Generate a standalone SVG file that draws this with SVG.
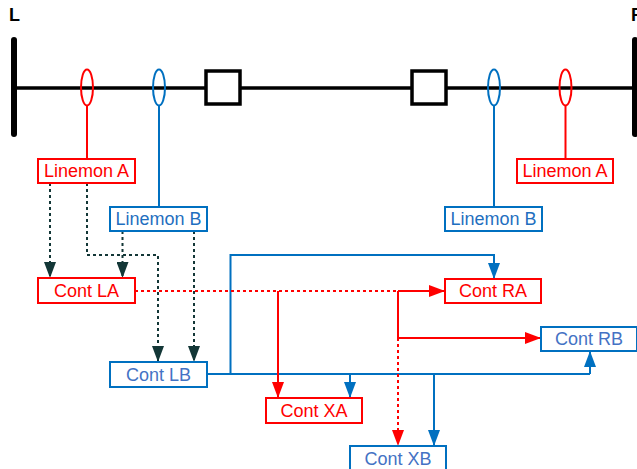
<svg xmlns="http://www.w3.org/2000/svg" width="637" height="469" viewBox="0 0 637 469">
<defs>
<style>
.t{font-family:"Liberation Sans",Arial,sans-serif;font-size:18px;text-anchor:middle;dominant-baseline:central}
.lbl{font-family:"Liberation Sans",Arial,sans-serif;font-size:18px;font-weight:bold;fill:#000}
.rb{fill:#fff;stroke:#ff0000;stroke-width:2}
.bb{fill:#fff;stroke:#0070c0;stroke-width:2}
.rt{fill:#ff0000}
.bt{fill:#1f6fc0}
.ct{fill:#4472c4}
.r{fill:none;stroke:#ff0000;stroke-width:2}
.b{fill:none;stroke:#0070c0;stroke-width:2}
.rd{fill:none;stroke:#ff0000;stroke-width:2;stroke-dasharray:3,3}
.kd{fill:none;stroke:#133737;stroke-width:2;stroke-dasharray:3,3}
</style>
<marker id="ar" viewBox="0 0 16 12" refX="16" refY="6" markerWidth="16" markerHeight="12" markerUnits="userSpaceOnUse" orient="auto"><path d="M0,0L16,6L0,12z" fill="#ff0000"/></marker>
<marker id="ab" viewBox="0 0 16 12" refX="16" refY="6" markerWidth="16" markerHeight="12" markerUnits="userSpaceOnUse" orient="auto"><path d="M0,0L16,6L0,12z" fill="#0070c0"/></marker>
<marker id="ak" viewBox="0 0 16 12" refX="16" refY="6" markerWidth="16" markerHeight="12" markerUnits="userSpaceOnUse" orient="auto"><path d="M0,0L16,6L0,12z" fill="#133737"/></marker>
</defs>
<rect width="637" height="469" fill="#fff"/>

<g id="line">
<text class="lbl" x="9" y="21">L</text>
<text class="lbl" x="631" y="21">R</text>
<line x1="14" y1="88" x2="637" y2="88" stroke="#000" stroke-width="3.5"/>
<line x1="14" y1="40" x2="14" y2="134" stroke="#000" stroke-width="6" stroke-linecap="round"/>
<line x1="635" y1="40" x2="635" y2="134" stroke="#000" stroke-width="6" stroke-linecap="round"/>
<rect x="206" y="71" width="34" height="33" fill="#fff" stroke="#000" stroke-width="3.5"/>
<rect x="412" y="71" width="34" height="33" fill="#fff" stroke="#000" stroke-width="3.5"/>
<ellipse cx="87" cy="87.5" rx="6" ry="18" fill="none" stroke="#ff0000" stroke-width="2"/>
<ellipse cx="159" cy="87.5" rx="6" ry="18" fill="none" stroke="#0070c0" stroke-width="2"/>
<ellipse cx="494" cy="87.5" rx="6" ry="18" fill="none" stroke="#0070c0" stroke-width="2"/>
<ellipse cx="565.5" cy="87.5" rx="6" ry="18" fill="none" stroke="#ff0000" stroke-width="2"/>
</g>

<g id="connectors">
<line class="r" x1="87" y1="105.5" x2="87" y2="159"/>
<line class="b" x1="159" y1="105.5" x2="159" y2="207"/>
<line class="b" x1="494" y1="105.5" x2="494" y2="207"/>
<line class="r" x1="565.5" y1="105.5" x2="565.5" y2="159"/>

<path class="kd" d="M50,183V278" marker-end="url(#ak)"/>
<path class="kd" d="M87,183V255H158V362" marker-end="url(#ak)"/>
<path class="kd" d="M122.5,231V278" marker-end="url(#ak)"/>
<path class="kd" d="M194,231V362" marker-end="url(#ak)"/>

<path class="b" d="M230.5,374V255H494V279" marker-end="url(#ab)"/>
<path class="b" d="M207,374H590"/>
<path class="b" d="M350,374V398" marker-end="url(#ab)"/>
<path class="b" d="M434,374V446" marker-end="url(#ab)"/>
<path class="b" d="M590,374V351" marker-end="url(#ab)"/>

<path class="rd" d="M135,291H398"/>
<path class="r" d="M398,291H445" marker-end="url(#ar)"/>
<path class="r" d="M278,291V398" marker-end="url(#ar)"/>
<path class="r" d="M398,291V338H541" marker-end="url(#ar)"/>
<path class="rd" d="M398,338V446" marker-end="url(#ar)"/>
</g>

<g id="linemonA-L"><rect class="rb" x="38" y="159" width="97" height="24"/><text class="t rt" x="86.5" y="171">Linemon A</text></g>
<g id="linemonB-L"><rect class="bb" x="110" y="207" width="97" height="24"/><text class="t bt" x="158.5" y="219">Linemon B</text></g>
<g id="linemonA-R"><rect class="rb" x="517" y="159" width="96" height="24"/><text class="t rt" x="565" y="171">Linemon A</text></g>
<g id="linemonB-R"><rect class="bb" x="445" y="207" width="97" height="24"/><text class="t bt" x="493.5" y="219">Linemon B</text></g>
<g id="contLA"><rect class="rb" x="38" y="278" width="97" height="25"/><text class="t rt" x="86.5" y="290.5">Cont LA</text></g>
<g id="contLB"><rect class="bb" x="110" y="362" width="97" height="25"/><text class="t ct" x="158.5" y="374.5">Cont LB</text></g>
<g id="contRA"><rect class="rb" x="445" y="279" width="96" height="24"/><text class="t rt" x="493" y="291">Cont RA</text></g>
<g id="contRB"><rect class="bb" x="541" y="327" width="96" height="24"/><text class="t ct" x="589" y="339">Cont RB</text></g>
<g id="contXA"><rect class="rb" x="266" y="398" width="96" height="25"/><text class="t rt" x="314" y="410.5">Cont XA</text></g>
<g id="contXB"><rect class="bb" x="350" y="446" width="96" height="25"/><text class="t ct" x="398" y="458.5">Cont XB</text></g>
</svg>
